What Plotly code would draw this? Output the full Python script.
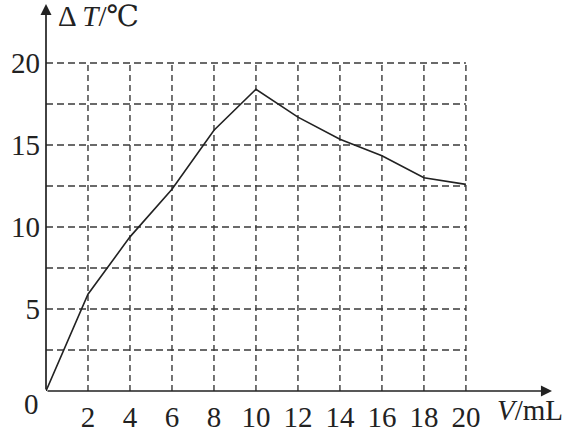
import plotly.graph_objects as go

volume_ml = [0, 2, 4, 6, 8, 10, 12, 14, 16, 18, 20]
delta_t = [0, 5.9, 9.4, 12.3, 15.9, 18.4, 16.7, 15.35, 14.35, 13.0, 12.6]
x_ticks = [2, 4, 6, 8, 10, 12, 14, 16, 18, 20]
y_ticks = [5, 10, 15, 20]
x_grid = [2, 4, 6, 8, 10, 12, 14, 16, 18, 20]
y_grid = [2.5, 5, 7.5, 10, 12.5, 15, 17.5, 20]

FONT = "Liberation Serif, Times New Roman, DejaVu Serif, serif"
FS = 29
XMAX, YMAX = 24.1, 23.6
GRID_X_END, GRID_Y_END = 20, 20
INK = "#222222"
GRID = "#3a3a3a"

W, H = 573, 432
L, R, T, B = 46, 21, 4, 41
pw, ph = W - L - R, H - T - B


def px_to_paper(px, py):
    return (px - L) / pw, 1 - (py - T) / ph


fig = go.Figure()
fig.add_trace(go.Scatter(x=volume_ml, y=delta_t, mode="lines",
                         line=dict(color=INK, width=1.6),
                         hoverinfo="skip", showlegend=False))

shapes = []
for gx in x_grid:
    shapes.append(dict(type="line", xref="x", yref="y", x0=gx, x1=gx, y0=0, y1=GRID_Y_END,
                       line=dict(color=GRID, width=1.4, dash="6px,4px"), layer="below"))
for gy in y_grid:
    shapes.append(dict(type="line", xref="x", yref="y", x0=0, x1=GRID_X_END, y0=gy, y1=gy,
                       line=dict(color=GRID, width=1.4, dash="7px,4px"), layer="below"))

annotations = [
    dict(x=XMAX, y=0, ax=0, ay=0, xref="x", yref="y", axref="x", ayref="y",
         showarrow=True, arrowhead=2, arrowsize=1.3, arrowwidth=1.7, arrowcolor=INK, text=""),
    dict(x=0, y=YMAX, ax=0, ay=0, xref="x", yref="y", axref="x", ayref="y",
         showarrow=True, arrowhead=2, arrowsize=1.3, arrowwidth=1.7, arrowcolor=INK, text=""),
]
for (txt, px, py, anchor) in [("0", 31, 404, "center"),
                              ("Δ <i>T</i>/℃", 56, 16, "left"),
                              ("<i>V</i>/mL", 495, 410, "left")]:
    xp, yp = px_to_paper(px, py)
    annotations.append(dict(x=xp, y=yp, xref="paper", yref="paper", text=txt,
                            showarrow=False, xanchor=anchor, yanchor="middle",
                            font=dict(family=FONT, size=FS, color=INK)))

fig.update_layout(
    width=W, height=H,
    margin=dict(l=L, r=R, t=T, b=B, autoexpand=False),
    paper_bgcolor="white", plot_bgcolor="white",
    shapes=shapes, annotations=annotations,
    xaxis=dict(range=[0, XMAX], tickvals=x_ticks, ticktext=[str(v) for v in x_ticks],
               showgrid=False, zeroline=False, showline=False, ticks="",
               automargin=False, ticklabelstandoff=6,
               tickfont=dict(family=FONT, size=FS, color=INK)),
    yaxis=dict(range=[0, YMAX], tickvals=y_ticks, ticktext=[str(v) for v in y_ticks],
               showgrid=False, zeroline=False, showline=False, ticks="",
               automargin=False, ticklabelstandoff=5,
               tickfont=dict(family=FONT, size=FS, color=INK)),
)

fig.write_html("out.html", config={"displayModeBar": False},
               post_script="document.body.style.margin='0';document.body.style.padding='0';")
